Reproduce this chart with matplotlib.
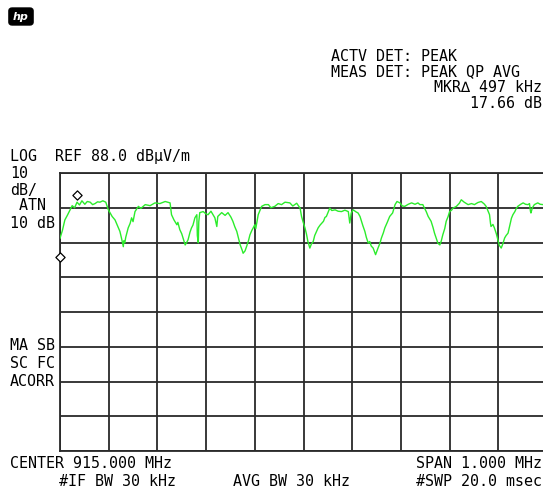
"""HP EMI receiver screen capture: peak trace, 915 MHz center, 1 MHz span -> out.png"""
import numpy as np
import matplotlib
matplotlib.use("Agg")
import matplotlib.pyplot as plt
from matplotlib.patches import FancyBboxPatch

CENTER_MHZ = 915.0
SPAN_MHZ = 1.0
REF_LEVEL = 88.0      # dBuV/m, top graticule line
DB_PER_DIV = 10.0
N_XDIV, N_YDIV = 10, 8

# trace: offset from left edge (kHz) and level (dBuV/m)
offset_khz = [
    0, 5, 10, 15, 20, 25, 30, 35, 40, 45, 51, 56, 62, 67, 72, 77, 82, 88, 94, 99,
    107, 113, 119, 123, 127, 130, 131, 133, 135, 140, 144, 147, 150, 154, 161, 166,
    175, 185, 195, 205, 216, 226, 229, 234, 240, 242, 246, 250, 257, 260, 263, 267,
    270, 273, 277, 281, 282, 284, 285, 287, 294, 300, 304, 310, 318, 322, 324, 332,
    339, 345, 351, 355, 359, 363, 366, 370, 374, 376, 380, 383, 387, 390, 394, 400,
    402, 407, 414, 421, 428, 433, 441, 448, 455, 462, 472, 478, 482, 486, 493, 496,
    499, 503, 506, 509, 513, 516, 520, 523, 530, 534, 541, 544, 547, 550, 554, 558,
    565, 571, 578, 585, 592, 595, 598, 602, 608, 612, 616, 619, 622, 626, 629, 633,
    636, 639, 643, 648, 653, 657, 660, 664, 667, 672, 677, 683, 688, 692, 698, 703,
    708, 715, 722, 729, 735, 739, 745, 748, 752, 756, 762, 766, 769, 773, 776, 780,
    783, 786, 790, 793, 797, 800, 804, 807, 814, 820, 824, 830, 838, 845, 851, 858,
    865, 871, 875, 879, 882, 884, 885, 889, 892, 896, 899, 902, 906, 909, 913, 916,
    920, 923, 927, 930, 934, 937, 940, 946, 951, 956, 961, 964, 966, 967, 970, 974,
    981, 986, 992, 998, 1000,
]
level_db = [
    69.2, 71.5, 74.5, 75.8, 77.2, 78.6, 78.0, 79.6, 78.8, 80.0, 79.0, 79.8, 79.6, 78.9, 79.2, 79.7, 79.6, 80.0, 79.6, 77.5,
    75.5, 74.5, 72.5, 71.2, 68.8, 66.8, 68.5, 67.9, 69.5, 72.2, 73.5, 75.1, 74.0, 76.9, 78.4, 77.8,
    78.9, 78.6, 79.4, 79.2, 79.8, 79.4, 76.0, 74.5, 73.1, 73.8, 71.7, 70.5, 67.3, 68.0, 68.8, 71.0,
    72.2, 73.0, 75.1, 76.0, 70.0, 67.9, 74.0, 76.6, 76.9, 76.2, 76.0, 77.0, 75.1, 72.6, 75.5, 76.6,
    75.8, 76.6, 75.3, 74.1, 72.5, 71.2, 69.5, 67.3, 65.8, 64.9, 65.6, 66.8, 68.5, 70.2, 71.5, 73.1,
    72.0, 76.0, 78.4, 78.9, 78.9, 78.0, 78.4, 79.2, 78.9, 79.6, 79.4, 78.5, 78.9, 79.3, 77.9, 75.5,
    74.0, 72.2, 70.5, 68.3, 66.4, 67.5, 68.3, 70.0, 72.2, 73.0, 74.1, 75.2, 75.5, 76.5, 77.9, 77.2,
    77.4, 77.0, 76.9, 77.3, 76.9, 73.6, 76.5, 77.4, 76.8, 76.5, 75.5, 74.1, 72.8, 71.2, 69.5, 67.8,
    68.3, 67.0, 66.4, 64.5, 66.4, 67.8, 69.3, 70.8, 72.2, 73.8, 75.5, 76.5, 78.9, 79.8, 79.4, 78.5,
    78.4, 79.0, 79.4, 79.0, 79.4, 78.9, 78.9, 78.0, 76.9, 75.5, 74.1, 72.3, 70.7, 69.0, 67.8, 67.3,
    68.5, 70.2, 72.0, 74.1, 75.5, 76.9, 77.3, 77.9, 78.4, 79.3, 80.3, 79.6, 78.9, 79.2, 78.9, 79.5,
    79.8, 79.1, 78.4, 77.0, 76.0, 73.5, 72.6, 73.2, 72.2, 70.5, 68.8, 67.2, 66.4, 67.5, 69.3, 70.0,
    70.7, 72.5, 75.0, 76.0, 76.9, 77.8, 78.4, 79.0, 79.4, 79.0, 78.9, 79.2, 77.0, 76.5, 78.0, 78.9,
    79.4, 79.0, 78.9, 79.2, 79.0,
]
# marker (diamond) positions: kHz offset, level
marker_khz = [34, 0]
marker_db = [81.7, 63.8]

W, H = 543, 495
FONT = "DejaVu Sans Mono"
FS = 10.8


def txt(fig, x, y, s, ha="left", size=FS):
    fig.text(x / W, 1 - y / H, s, ha=ha, va="center", fontsize=size,
             family=FONT, color="black")


def main():
    fig = plt.figure(figsize=(W / 100, H / 100), dpi=100)
    # graticule spans x 60..547 px (right edge cut by the capture), y 173..451 px
    ax = fig.add_axes([60 / W, 1 - 451 / H, 487 / W, 278 / H])

    f0 = CENTER_MHZ - SPAN_MHZ / 2
    freqs = f0 + np.array(offset_khz) / 1000.0
    ax.plot(freqs, level_db, color="#2bec2b", lw=1.0, zorder=3)
    ax.scatter(f0 + np.array(marker_khz) / 1000.0, marker_db, marker="D",
               s=22, facecolors="white", edgecolors="black", linewidths=0.9,
               zorder=4, clip_on=False)

    bottom = REF_LEVEL - N_YDIV * DB_PER_DIV
    ax.set_xlim(f0, f0 + SPAN_MHZ)
    ax.set_ylim(bottom, REF_LEVEL)
    ax.set_xticks(np.linspace(f0, f0 + SPAN_MHZ, N_XDIV + 1))
    ax.set_yticks(np.linspace(bottom, REF_LEVEL, N_YDIV + 1))
    ax.tick_params(length=0, labelbottom=False, labelleft=False)
    ax.grid(True, color="#2a2a2a", lw=1.3)
    for sp in ax.spines.values():
        sp.set_color("#2a2a2a")
        sp.set_linewidth(1.3)

    # hp logo
    fig.patches.append(FancyBboxPatch((10 / W, 1 - 24 / H), 22 / W, 15 / H,
                                      boxstyle="round,pad=0.002,rounding_size=0.006",
                                      transform=fig.transFigure, facecolor="black",
                                      edgecolor="black"))
    fig.text(21 / W, 1 - 16.5 / H, "hp", ha="center", va="center", color="white",
             fontsize=8, fontstyle="italic", fontweight="bold")

    txt(fig, 331, 56, "ACTV DET: PEAK")
    txt(fig, 331, 72, "MEAS DET: PEAK QP AVG")
    txt(fig, 542, 88, "MKR\u2206 497 kHz", ha="right")
    txt(fig, 542, 104, "17.66 dB", ha="right")

    txt(fig, 10, 157, "LOG  REF 88.0 dB\u00b5V/m")
    txt(fig, 10, 174, "10")
    txt(fig, 10, 190, "dB/")
    txt(fig, 10, 206, " ATN")
    txt(fig, 10, 223, "10 dB")
    txt(fig, 10, 346, "MA SB")
    txt(fig, 10, 364, "SC FC")
    txt(fig, 10, 381, "ACORR")

    txt(fig, 10, 463, "CENTER 915.000 MHz")
    txt(fig, 542, 463, "SPAN 1.000 MHz", ha="right")
    txt(fig, 59, 481, "#IF BW 30 kHz")
    txt(fig, 233, 481, "AVG BW 30 kHz")
    txt(fig, 542, 481, "#SWP 20.0 msec", ha="right")

    fig.savefig("out.png", dpi=100, facecolor="white")


if __name__ == "__main__":
    main()
